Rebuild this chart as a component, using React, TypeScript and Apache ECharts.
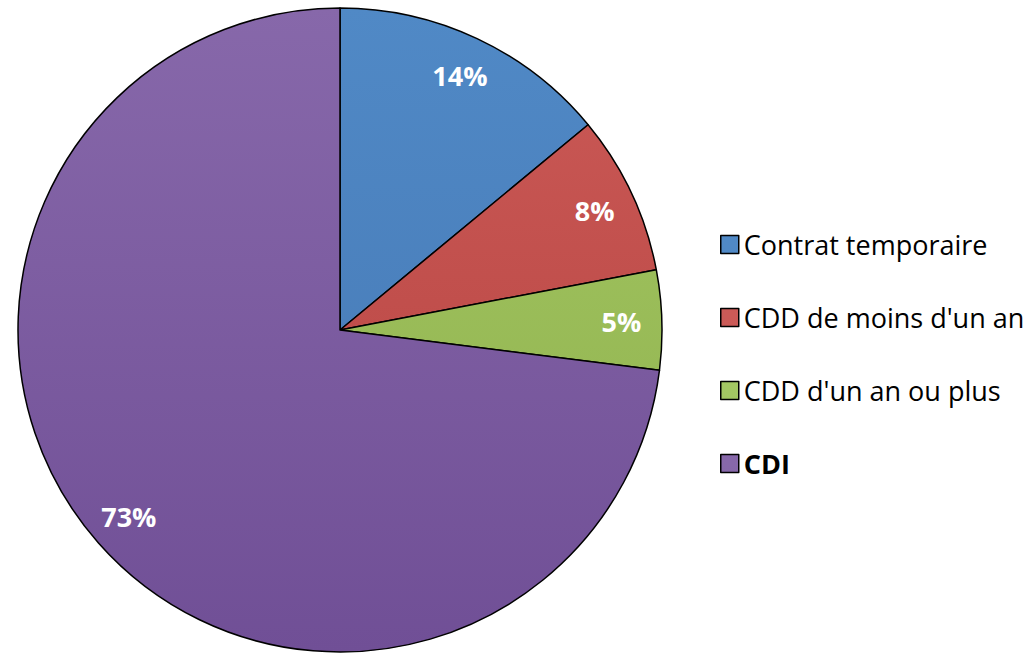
import React, { useEffect, useRef } from "react";
import * as echarts from "echarts";

const categories = ["Contrat temporaire", "CDD de moins d'un an", "CDD d'un an ou plus", "CDI"];
const shares = [14, 8, 5, 73];
const topColors = ["#5089c6", "#cb5a57", "#a3c763", "#8768aa"];
const bottomColors = ["#4577b3", "#b5423f", "#8fb04c", "#704f96"];

const CX = 340;
const CY = 330;
const R = 322;

export default function App() {
  const ref = useRef<HTMLDivElement>(null);

  useEffect(() => {
    if (!ref.current) return;
    const chart = echarts.init(ref.current, null, { renderer: "svg" });

    const data = categories.map((name, i) => ({
      name,
      value: shares[i],
      itemStyle: {
        color: {
          type: "linear",
          global: true,
          x: 0,
          y: CY - R,
          x2: 0,
          y2: CY + R,
          colorStops: [
            { offset: 0, color: topColors[i] },
            { offset: 1, color: bottomColors[i] },
          ],
        },
      },
    }));

    chart.setOption({
      animation: false,
      backgroundColor: "#ffffff",
      legend: {
        orient: "vertical",
        left: 715,
        top: 226,
        itemWidth: 18,
        itemHeight: 18,
        itemGap: 46,
        icon: "rect",
        selectedMode: false,
        itemStyle: { borderColor: "#000000", borderWidth: 1.5 },
        formatter: (name: string) => (name === "CDI" ? "{b|" + name + "}" : name),
        textStyle: {
          fontFamily: "Open Sans",
          fontSize: 27,
          color: "#000000",
          lineHeight: 18,
          padding: [0, 0, 0, 0],
          rich: {
            b: { fontFamily: "Open Sans", fontSize: 27, fontWeight: "bold", color: "#000000" },
          },
        },
        data: categories,
      },
      series: [
        {
          type: "pie",
          center: [CX, CY],
          radius: [0, R],
          startAngle: 90,
          clockwise: true,
          avoidLabelOverlap: false,
          silent: true,
          label: { show: false },
          labelLine: { show: false },
          itemStyle: { borderColor: "#000000", borderWidth: 1.5 },
          data,
        },
        {
          // transparent ring that only carries the percentage labels near the rim
          type: "pie",
          center: [CX, CY],
          radius: [R * 0.73, R],
          startAngle: 90,
          clockwise: true,
          avoidLabelOverlap: false,
          silent: true,
          legendHoverLink: false,
          itemStyle: { color: "rgba(0,0,0,0)", borderWidth: 0 },
          label: {
            show: true,
            position: "inside",
            formatter: "{c}%",
            color: "#ffffff",
            fontFamily: "Open Sans",
            fontWeight: "bold",
            fontSize: 27,
          },
          labelLine: { show: false },
          data: categories.map((name, i) => ({ name, value: shares[i] })),
        },
      ],
    });

    return () => chart.dispose();
  }, []);

  return (
    <div
      ref={ref}
      style={{ position: "absolute", left: 0, top: 0, width: 1029, height: 654 }}
    />
  );
}
